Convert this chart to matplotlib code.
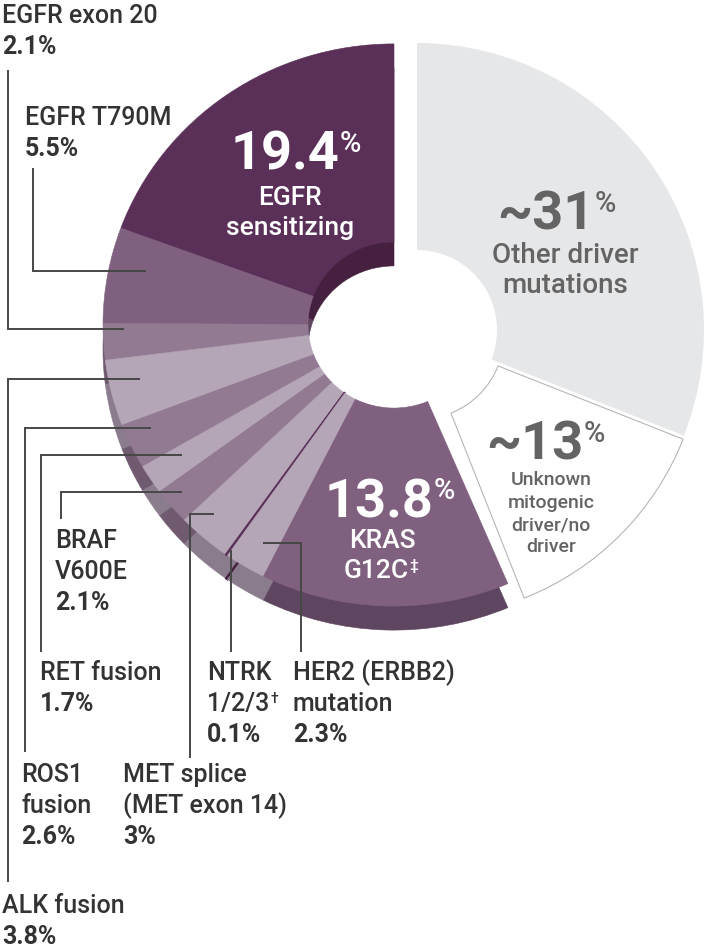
import matplotlib
matplotlib.use("Agg")
import matplotlib.pyplot as plt
from matplotlib.patches import Wedge
from matplotlib.transforms import Affine2D
import numpy as np

plt.rcParams['font.family'] = ['Roboto', 'DejaVu Sans']

# -----------------------------
# Data
# -----------------------------
# purple drivers, counter-clockwise from 12 o'clock
drivers = ["EGFR sensitizing", "EGFR T790M", "EGFR exon 20", "ALK fusion", "ROS1 fusion",
           "RET fusion", "BRAF V600E", "MET splice", "NTRK 1/2/3", "HER2 mutation", "KRAS G12C"]
driver_pct = [19.4, 5.5, 2.1, 3.8, 2.6, 1.7, 2.1, 3.0, 0.1, 2.3, 13.8]

# grey part, clockwise from 12 o'clock
rest = ["Other driver mutations", "Unknown mitogenic driver/no driver"]
rest_pct = [31, 13]

# outside label texts
label_lines = {
    "EGFR exon 20": ["EGFR exon 20"],
    "EGFR T790M": ["EGFR T790M"],
    "ALK fusion": ["ALK fusion"],
    "ROS1 fusion": ["ROS1", "fusion"],
    "RET fusion": ["RET fusion"],
    "BRAF V600E": ["BRAF", "V600E"],
    "MET splice": ["MET splice", "(MET exon 14)"],
    "NTRK 1/2/3": ["NTRK", "1/2/3"],
    "HER2 mutation": ["HER2 (ERBB2)", "mutation"],
}
footnote = {"NTRK 1/2/3": "\u2020", "KRAS G12C": "\u2021"}

# -----------------------------
# Styles / layout
# -----------------------------
DARK, MID, MED, LIGHT = "#5a3059", "#7f607e", "#937a93", "#b5a6b7"
top_col = [DARK, MID, MED, LIGHT, MED, LIGHT, MED, LIGHT, DARK, LIGHT, MID]
side_map = {DARK: "#45213f", MID: "#5e4560", MED: "#6f5a70", LIGHT: "#8a7c8c"}
side_col = [side_map[c] for c in top_col]

W, H, DPI = 706, 952, 100
PX = DPI / 72.0
CAP = 0.711
TXT = "#333333"
GREY_TXT = "#646464"
REG = "medium"

fig = plt.figure(figsize=(W / DPI, H / DPI), dpi=DPI)
ax = fig.add_axes([0, 0, 1, 1])
ax.set_xlim(0, W)
ax.set_ylim(H, 0)
ax.axis("off")
rend = fig.canvas.get_renderer()

# purple group geometry (slightly squashed, with depth)
P_CX, P_CY, P_R, P_RIN, P_SQ, DEPTH = 394, 325, 291, 86, 0.966, 24
# grey groups
O_CX, O_CY, O_R, O_RIN = 417, 330, 287, 80
U_CX, U_CY, U_R, U_RIN = 420, 335, 283, 84


def place(cx, cy, sq=1.0):
    return Affine2D().scale(1, -sq).translate(cx, cy) + ax.transData


# purple slices: side copy first, then top
starts = 90 + 3.6 * np.concatenate([[0], np.cumsum(driver_pct)[:-1]])
ends = starts + 3.6 * np.array(driver_pct)
for s, e, c in zip(starts, ends, side_col):
    lw = 1.4 if e - s < 1 else 0.4
    ax.add_patch(Wedge((0, 0), P_R, s, e, width=P_R - P_RIN, facecolor=c, edgecolor=c, lw=lw,
                       transform=place(P_CX, P_CY + DEPTH, P_SQ)))
for s, e, c in zip(starts, ends, top_col):
    lw = 1.4 if e - s < 1 else 0.4
    ax.add_patch(Wedge((0, 0), P_R, s, e, width=P_R - P_RIN, facecolor=c, edgecolor=c, lw=lw,
                       transform=place(P_CX, P_CY, P_SQ)))

# grey slices
o_end = 90
o_start = o_end - 3.6 * rest_pct[0]
u_end = o_start
u_start = u_end - 3.6 * rest_pct[1]
ax.add_patch(Wedge((0, 0), O_R, o_start, o_end, width=O_R - O_RIN, facecolor="#e6e7e9",
                   edgecolor="none", transform=place(O_CX, O_CY)))
ax.add_patch(Wedge((0, 0), U_R, u_start, u_end, width=U_R - U_RIN, facecolor="white",
                   edgecolor="#b5b5b5", lw=0.8, transform=place(U_CX, U_CY)))


# -----------------------------
# Text helpers
# -----------------------------
def sup_text(x, y, main, mark, size, mark_size, color, weight=REG, ha="left", mweight=None, gap=1):
    t = ax.text(x, y, main, fontsize=size, color=color, fontweight=weight, ha="left", va="baseline")
    m = ax.text(x, y, mark, fontsize=mark_size, color=color, fontweight=mweight or weight,
                ha="left", va="baseline")
    w1 = t.get_window_extent(rend).width
    w2 = m.get_window_extent(rend).width
    x0 = x - (w1 + w2 + gap) / 2 if ha == "center" else x
    lift = (size - mark_size) * CAP * PX
    t.set_x(x0)
    m.set_position((x0 + w1 + gap, y - lift))


# outside labels: (x, first baseline)
label_pos = {
    "EGFR exon 20": (2, 23),
    "EGFR T790M": (25, 125),
    "BRAF V600E": (55, 548),
    "RET fusion": (40, 680),
    "NTRK 1/2/3": (207, 680),
    "HER2 mutation": (293, 680),
    "ROS1 fusion": (21, 782),
    "MET splice": (123, 782),
    "ALK fusion": (2, 913),
}
STEP = 31
LSIZE = 18
for name, (x, y) in label_pos.items():
    lines = label_lines[name]
    for i, ln in enumerate(lines):
        if i == len(lines) - 1 and name in footnote:
            sup_text(x, y + i * STEP, ln, footnote[name], LSIZE, 10, TXT)
        else:
            ax.text(x, y + i * STEP, ln, fontsize=LSIZE, color=TXT, fontweight=REG,
                    va="baseline", ha="left")
    val = driver_pct[drivers.index(name)]
    ax.text(x, y + len(lines) * STEP, f"{val:g}%", fontsize=LSIZE, color=TXT,
            fontweight="bold", va="baseline", ha="left")

# leader lines
leaders = {
    "EGFR exon 20": [(8, 70), (8, 329), (124, 329)],
    "EGFR T790M": [(33, 168), (33, 271), (146, 271)],
    "ALK fusion": [(8, 882), (8, 379), (140, 379)],
    "ROS1 fusion": [(25, 752), (25, 428), (151, 428)],
    "RET fusion": [(41, 652), (41, 455), (182, 455)],
    "BRAF V600E": [(61, 519), (61, 492), (182, 492)],
    "MET splice": [(190, 758), (190, 514), (214, 514)],
    "NTRK 1/2/3": [(231, 652), (231, 550)],
    "HER2 mutation": [(263, 543), (301, 543), (301, 652)],
}
for pts in leaders.values():
    xs, ys = zip(*pts)
    ax.plot(xs, ys, color="#474747", lw=1.4, solid_capstyle="butt", solid_joinstyle="miter")

# inner labels
BIG, PCT, MIDSZ = 39, 21, 19
sup_text(296, 170, f"{driver_pct[0]:g}", "%", BIG, PCT, "white", weight="bold", ha="center",
         mweight=REG, gap=0)
ax.text(290, 205, "EGFR", fontsize=MIDSZ, color="white", fontweight=REG, ha="center", va="baseline")
ax.text(290, 235, "sensitizing", fontsize=MIDSZ, color="white", fontweight=REG, ha="center",
        va="baseline")

sup_text(390, 517, f"{driver_pct[-1]:g}", "%", BIG, PCT, "white", weight="bold", ha="center",
         mweight=REG, gap=0)
ax.text(382, 548, "KRAS", fontsize=MIDSZ, color="white", fontweight=REG, ha="center", va="baseline")
sup_text(381, 578, "G12C", footnote["KRAS G12C"], MIDSZ, 11, "white", ha="center")

sup_text(557, 230, f"~{rest_pct[0]}", "%", BIG, PCT, GREY_TXT, weight="bold", ha="center",
         mweight=REG, gap=0)
ax.text(565, 263, "Other driver", fontsize=20, color=GREY_TXT, fontweight=REG, ha="center",
        va="baseline")
ax.text(565, 293, "mutations", fontsize=20, color=GREY_TXT, fontweight=REG, ha="center",
        va="baseline")

sup_text(546, 460, f"~{rest_pct[1]}", "%", BIG, PCT, GREY_TXT, weight="bold", ha="center",
         mweight=REG, gap=0)
for i, ln in enumerate(["Unknown", "mitogenic", "driver/no", "driver"]):
    ax.text(551, 485 + i * 22.5, ln, fontsize=14, color=GREY_TXT, fontweight=REG, ha="center",
            va="baseline")

fig.savefig("out.png", dpi=DPI)
